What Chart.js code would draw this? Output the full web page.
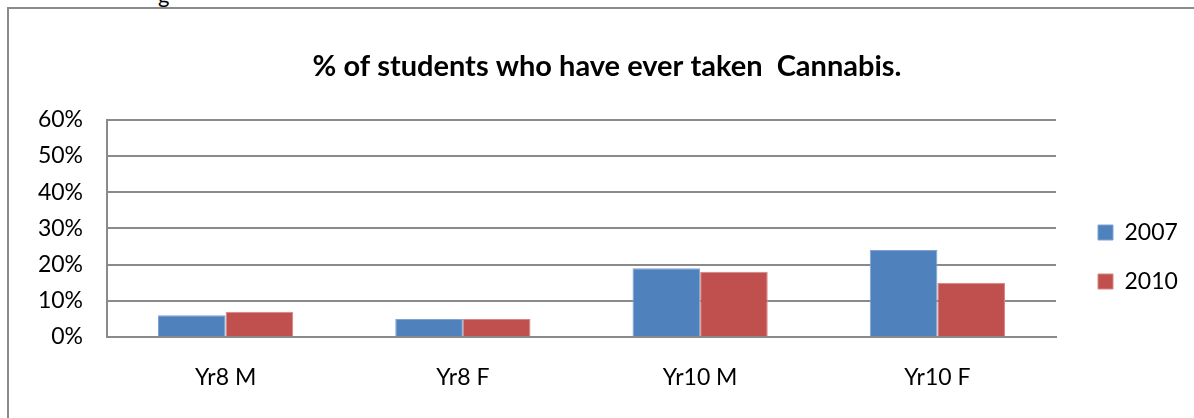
<!DOCTYPE html>
<html>
<head>
<meta charset="utf-8">
<script src="https://cdn.jsdelivr.net/npm/chart.js@4.4.1/dist/chart.umd.min.js"></script>
<style>
  html, body { margin:0; padding:0; background:#fff; }
  body { width:1194px; height:418px; position:relative; overflow:hidden; }
  #frame { position:absolute; left:7px; top:7px; right:0; bottom:0; border-top:2px solid #8a8a8a; border-left:2px solid #8a8a8a; }
  #cut { position:absolute; left:158px; top:-19px; font:22px Lato, sans-serif; color:#000; }
  #wrap { position:absolute; left:0; top:0; width:1194px; height:418px; }
</style>
</head>
<body>
<div id="cut">g</div>
<div id="frame"></div>
<div id="wrap"><canvas id="chart" width="1194" height="418"></canvas></div>
<script>
  const categories = ['Yr8 M', 'Yr8 F', 'Yr10 M', 'Yr10 F'];
  const seriesNames = ['2007', '2010'];
  const values2007 = [6, 5, 19, 24];
  const values2010 = [7, 5, 18, 15];
  const yTickMax = 60, yTickStep = 10;
  const colors = ['#4f81bd', '#c0504d'];

  const FONT = 'Lato, "Noto Sans", sans-serif';

  // legend gets a fixed column width and is nudged to where the original puts it
  const legendPlace = {
    id: 'legendPlace',
    beforeLayout(chart) {
      const lg = chart.legend;
      if (!lg || lg._fixedFit) return;
      const fit = lg.fit;
      lg.fit = function () { fit.call(this); this.width = 138; };
      lg._fixedFit = true;
    },
    afterLayout(chart) {
      const lg = chart.legend; if (!lg) return;
      const pad = lg.options.labels.padding;
      const dx = 1098 - pad - lg.left, dy = 221 - pad - lg.top;
      lg.left += dx; lg.right += dx; lg.top += dy; lg.bottom += dy;
    }
  };

  new Chart(document.getElementById('chart').getContext('2d'), {
    type: 'bar',
    data: {
      labels: categories,
      datasets: [
        { label: seriesNames[0], data: values2007, backgroundColor: colors[0], borderColor: '#7fa3d3', borderWidth: 1 },
        { label: seriesNames[1], data: values2010, backgroundColor: colors[1], borderColor: '#d98583', borderWidth: 1 }
      ]
    },
    options: {
      responsive: false, animation: false,
      devicePixelRatio: 1,
      layout: { padding: { left: 20, top: 8, right: 0, bottom: 0 } },
      datasets: { bar: { categoryPercentage: 0.57, barPercentage: 1 } },
      plugins: {
        title: {
          display: true,
          text: '% of students who have ever taken  Cannabis.',
          color: '#000',
          font: { family: FONT, size: 29, weight: 'bold' },
          padding: { top: 41, bottom: 36 }
        },
        legend: {
          position: 'right', align: 'start',
          labels: { color: '#000', font: { family: FONT, size: 23 }, boxWidth: 15, boxHeight: 15, padding: 26 }
        },
        tooltip: { enabled: false }
      },
      scales: {
        x: {
          grid: { display: false, drawTicks: false },
          border: { display: true, color: '#8a8a8a', width: 2 },
          ticks: { color: '#000', font: { family: FONT, size: 23 }, padding: 27 },
          afterFit(scale) { scale.height = 81; }
        },
        y: {
          min: 0, max: yTickMax,
          grid: { color: '#8a8a8a', lineWidth: 2, drawTicks: false },
          border: { display: true, color: '#8a8a8a', width: 2 },
          ticks: { stepSize: yTickStep, color: '#000', font: { family: FONT, size: 23 }, padding: 24, callback: v => v + '%' },
          afterFit(scale) { scale.width = 87; }
        }
      }
    },
    plugins: [legendPlace]
  });
</script>
</body>
</html>
